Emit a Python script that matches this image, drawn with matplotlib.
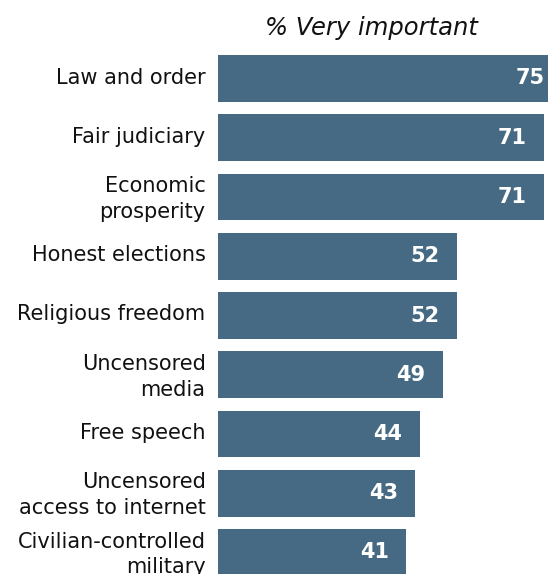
import matplotlib
matplotlib.use("Agg")
import matplotlib.pyplot as plt
import matplotlib.transforms as mtransforms
import numpy as np

categories = [
    "Law and order",
    "Fair judiciary",
    "Economic\nprosperity",
    "Honest elections",
    "Religious freedom",
    "Uncensored\nmedia",
    "Free speech",
    "Uncensored\naccess to internet",
    "Civilian-controlled\nmilitary",
]
values = [75, 71, 71, 52, 52, 49, 44, 43, 41]
title = "% Very important"

BAR_COLOR = "#466a84"
W, H = 548, 574

fig = plt.figure(figsize=(W / 100, H / 100), dpi=100)
# axes placed in pixel terms: bars start at x=218, first bar centre at y=78.5, pitch ~59.25
pitch = 59.25
top_px = 78.5 - pitch / 2
bot_px = 78.5 + 8.5 * pitch
ax = fig.add_axes([218 / W, (H - bot_px) / H, (W - 218) / W, (bot_px - top_px) / H])

ys = np.arange(len(values))
ax.barh(ys, values, height=0.79, color=BAR_COLOR, edgecolor="none")
ax.set_xlim(0, (W - 218) / 4.59)
ax.set_ylim(len(values) - 0.5, -0.5)

ax.set_yticks(ys)
ax.set_yticklabels(categories, fontsize=15, linespacing=1.37, color="#111111")
ax.tick_params(axis="y", length=0, pad=9)
# nudge labels up a little, like the original
shift = mtransforms.ScaledTranslation(0, 3 / 100, fig.dpi_scale_trans)
for lab in ax.get_yticklabels():
    lab.set_transform(lab.get_transform() + shift)
ax.set_xticks([])
for s in ax.spines.values():
    s.set_visible(False)

for y, v in zip(ys, values):
    ax.annotate(str(v), xy=(v, y), xytext=(-12.5, 0), textcoords="offset points",
                ha="right", va="center", fontsize=15, fontweight="bold",
                color="white", annotation_clip=False)

fig.text(371 / W, 1 - 28 / H, title, ha="center", va="center",
         fontsize=17.5, style="italic", color="#111111")

fig.savefig("out.png", dpi=100)
plt.close(fig)
